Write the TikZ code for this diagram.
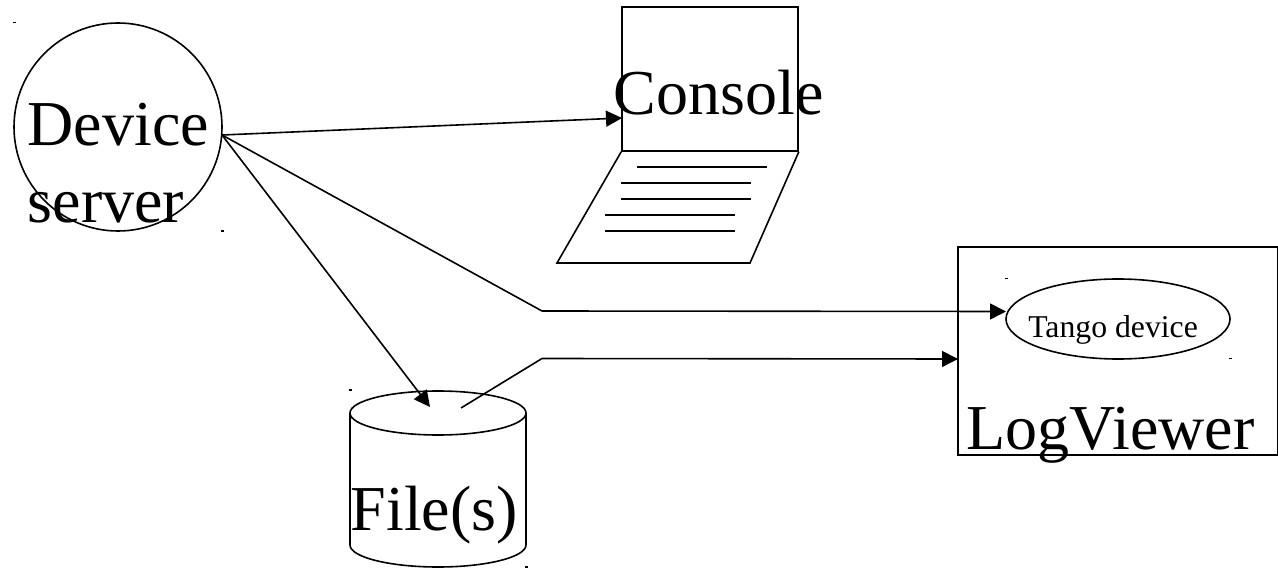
\documentclass[tikz,border=0pt]{standalone}
\usepackage{fontspec}
\setmainfont{Liberation Serif}
\usetikzlibrary{arrows.meta,shapes.geometric}
\tikzset{
  x=0.75pt,y=-0.75pt,
  shapeline/.style={draw=black,line width=1.2pt,line join=miter},
  conn/.style={draw=black,line width=1.2pt,-{Triangle[length=12pt,width=12pt]},line join=round},
  plainline/.style={draw=black,line width=1.2pt},
  bigtext/.style={inner sep=0pt,anchor=base west,font=\fontsize{48pt}{48pt}\selectfont,text=black},
  smalltext/.style={inner sep=0pt,anchor=base west,font=\fontsize{23.8pt}{23.8pt}\selectfont,text=black},
  handle/.style={fill=black,draw=none,inner sep=0pt,minimum width=2pt,minimum height=1.3pt,shape=rectangle}
}
\begin{document}
\begin{tikzpicture}
\useasboundingbox (0,0) rectangle (1278,570);
% Device server
\node[shapeline,circle,inner sep=0pt,minimum size=156pt] (dev) at (118,127) {};
\coordinate (devout) at (222,135);
% Console
\node[shapeline,rectangle,inner sep=0pt,minimum width=132pt,minimum height=108pt] (screen) at (710,79) {};
\coordinate (kbd1) at (557,263);
\coordinate (kbd2) at (750,263);
\draw[shapeline] (screen.south west) -- (kbd1) -- (kbd2) -- (screen.south east);
\draw[plainline] (637,167) -- (767,167);
\draw[plainline] (621,183) -- (751,183);
\draw[plainline] (621,199) -- (751,199);
\draw[plainline] (605,215) -- (735,215);
\draw[plainline] (605,231) -- (735,231);
% File cylinder
\draw[shapeline] (350,413) -- (350,545) .. controls (350,557) and (389,567) .. (438,567)
  .. controls (487,567) and (526,557) .. (526,545) -- (526,413);
\node[shapeline,ellipse,inner sep=0pt,minimum width=132pt,minimum height=33pt] (filetop) at (438,413) {};
\coordinate (filein) at (430,407);
\coordinate (fileout) at (461,408);
% LogViewer
\node[shapeline,rectangle,inner sep=0pt,minimum width=240pt,minimum height=156pt] (lv) at (1118,351) {};
\node[shapeline,ellipse,inner sep=0pt,minimum width=168pt,minimum height=60pt] (tango) at (1118,319) {};
\coordinate (tangoin) at (1006,311.5);
\coordinate (lvin) at (958,359);
% Connector bends
\coordinate (bendA) at (542,311);
\coordinate (bendB) at (542,358.5);
\coordinate (consolein) at (622,118);
% Connectors
\draw[conn] (devout) -- (consolein);
\draw[conn] (devout) -- (filein);
\draw[conn] (devout) -- (bendA) -- (tangoin);
\draw[conn] (fileout) -- (bendB) -- (lvin);
% Labels
\node[bigtext] (t1) at (27.5,146) {Device};
\node[bigtext] (t2) at (27.5,223) {server};
\node[bigtext] (t3) at (613.5,114.5) {Console};
\node[bigtext] (t4) at (350.5,530) {File(s)};
\node[bigtext] (t5) at (966.5,449.5) {LogViewer};
\node[smalltext] (t6) at (1028,337) {Tango device};
% Handles
\node[handle] (h1) at (14.5,22.5) {};
\node[handle] (h2) at (222.5,231) {};
\node[handle] (h3) at (350.5,390) {};
\node[handle] (h4) at (526.5,567) {};
\node[handle] (h5) at (1006.5,278.5) {};
\node[handle] (h6) at (1230.5,358.5) {};
\end{tikzpicture}
\end{document}
